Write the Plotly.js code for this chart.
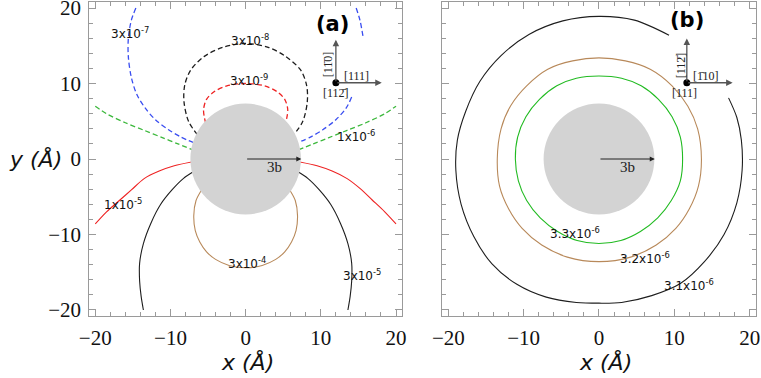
<!DOCTYPE html>
<html lang="en">
<head>
<meta charset="UTF-8">
<script src="https://cdn.plot.ly/plotly-3.0.1.min.js"></script>
<style>
    html, body, #plot {
        margin: 0;
        padding: 0;
        width: 761px;
        height: 378px;
        overflow: hidden;
        background: #fff;
    }
</style>
</head>
<body>
<div id="plot"></div>
<script>
    // ---- panel (a) contours ----
    const a7L_x = [-14.6, -15.2, -15.6, -15.6, -15.2, -14.5, -13.4, -12.0, -10.3, -8.6, -7.0];
    const a7L_y = [20.0, 18.4, 16.0, 13.5, 10.8, 8.6, 6.8, 5.2, 3.9, 2.9, 2.2];
    const a7Rtop_x = [14.7, 15.2, 15.6];
    const a7Rtop_y = [20.0, 18.4, 16.3];
    const a7Rbot_x = [14.1, 13.4, 12.0, 10.3, 8.6, 7.0];
    const a7Rbot_y = [8.2, 6.8, 5.2, 3.9, 2.9, 2.2];

    const a8_x = [-6.4, -7.6, -8.2, -8.1, -7.3, -5.5, -3.0, 0, 3.0, 5.3, 7.3, 8.1, 8.2, 7.6, 6.4];
    const a8_y = [3.2, 5.0, 7.6, 9.8, 11.8, 13.6, 14.8, 15.3, 14.8, 13.6, 11.8, 9.8, 7.6, 5.0, 3.2];

    const a9_x = [-5.3, -5.6, -5.2, -4.2, -2.5, 0, 2.5, 4.2, 5.2, 5.6, 5.3];
    const a9_y = [4.7, 6.5, 7.9, 8.9, 9.7, 10.0, 9.7, 8.9, 7.9, 6.5, 4.7];

    const a6L_x = [-20.0, -18.5, -16.0, -13.5, -11.0, -9.0, -7.0];
    const a6L_y = [7.0, 6.0, 4.8, 3.8, 2.8, 2.0, 1.2];
    const a6R_x = [7.0, 9.0, 11.0, 13.5, 16.0, 18.5, 20.0];
    const a6R_y = [1.2, 2.0, 2.8, 3.8, 4.8, 6.0, 7.0];

    const a5L_x = [-7.2, -9.5, -11.5, -13.5, -15.2, -16.8, -18.5, -20.0];
    const a5L_y = [-0.4, -0.9, -1.6, -2.6, -4.1, -5.5, -7.0, -8.6];
    const a5R_x = [7.2, 9.5, 11.5, 13.5, 15.2, 16.8, 18.5, 20.0];
    const a5R_y = [-0.4, -0.9, -1.6, -2.6, -3.9, -5.4, -7.0, -8.6];

    const a35L_x = [-6.8, -8.3, -9.8, -11.3, -12.6, -13.6, -14.1, -14.1, -13.9, -13.6];
    const a35L_y = [-1.6, -2.6, -4.1, -6.0, -8.5, -11.2, -13.8, -16.2, -18.2, -20.0];
    const a35R_x = [6.8, 8.3, 9.8, 11.3, 12.6, 13.6, 14.1, 14.1, 13.9, 13.6];
    const a35R_y = [-1.6, -2.6, -4.1, -6.0, -8.5, -11.2, -13.8, -16.2, -18.2, -20.0];

    const a4_x = [-5.8, -6.6, -6.9, -6.7, -6.1, -5.2, -4.0, -2.2, 0, 2.2, 4.0, 5.2, 6.1, 6.7, 6.9, 6.6, 5.8];
    const a4_y = [-4.0, -5.5, -7.5, -9.5, -11.0, -12.3, -13.3, -14.1, -14.4, -14.1, -13.3, -12.3, -11.0, -9.5, -7.5, -5.5, -4.0];

    // ---- panel (b) contours ----
    const b33_x = [0, -3.0, -5.6, -7.9, -9.7, -10.8, -11.1, -10.7, -9.6, -7.8, -5.5, -2.9, 0, 2.9, 5.5, 7.8, 9.6, 10.8, 11.1, 10.8, 9.7, 7.9, 5.6, 3.0, 0];
    const b33_y = [11.0, 10.7, 9.7, 7.9, 5.6, 2.9, 0, -2.9, -5.5, -7.8, -9.6, -10.8, -11.2, -10.8, -9.6, -7.8, -5.5, -2.9, 0, 2.9, 5.6, 7.9, 9.7, 10.7, 11.0];

    const b32_x = [0, -3.5, -6.8, -9.6, -11.7, -13.0, -13.5, -13.2, -12.0, -10.2, -7.6, -4.2, 0, 4.2, 7.6, 10.2, 12.0, 13.2, 13.6, 13.1, 11.8, 9.7, 6.8, 3.5, 0];
    const b32_y = [13.4, 13.0, 11.9, 9.7, 7.1, 4.0, 0, -3.6, -6.6, -9.2, -11.4, -13.0, -13.6, -13.0, -11.4, -9.2, -6.6, -3.6, 0, 4.0, 7.0, 9.7, 11.9, 13.0, 13.4];

    const b31_x = [9.3, 4.7, 0, -4.8, -9.3, -13.0, -15.8, -17.7, -18.8, -19.0, -18.3, -16.6, -14.2, -10.9, -7.0, -3.0, 0, 3.0, 7.0, 10.8, 14.0, 16.6, 18.3, 19.0, 18.9, 18.3, 17.2];
    const b31_y = [16.4, 18.4, 18.9, 18.3, 16.5, 13.7, 10.3, 6.3, 2.5, -1.5, -6.0, -10.3, -13.9, -16.6, -18.3, -19.0, -19.1, -19.0, -18.1, -16.5, -13.6, -10.0, -5.8, -1.5, 2.5, 5.5, 8.1];

    const coreRadius = 7.35;
    const burgers = 7.4;
    const axisRange = [-20.8, 20.8];

    const blue = '#3a4ef0', red = '#ee2222', green = '#3cb83c', black = '#1e1e1e', brown = '#b8895a';

    function curve(xs, ys, color, dash, panel) {
        return {
            x: xs, y: ys,
            type: 'scatter', mode: 'lines',
            line: { color: color, width: dash ? 1.3 : 1.1, dash: dash || 'solid', shape: 'spline', smoothing: 0.9 },
            xaxis: panel === 'b' ? 'x2' : 'x',
            yaxis: panel === 'b' ? 'y2' : 'y',
            hoverinfo: 'skip', showlegend: false
        };
    }

    const dashed = '5px,3px';
    const data = [
        curve(a7L_x, a7L_y, blue, dashed, 'a'),
        curve(a7Rtop_x, a7Rtop_y, blue, dashed, 'a'),
        curve(a7Rbot_x, a7Rbot_y, blue, dashed, 'a'),
        curve(a8_x, a8_y, black, dashed, 'a'),
        curve(a9_x, a9_y, red, dashed, 'a'),
        curve(a6L_x, a6L_y, green, dashed, 'a'),
        curve(a6R_x, a6R_y, green, dashed, 'a'),
        curve(a5L_x, a5L_y, red, null, 'a'),
        curve(a5R_x, a5R_y, red, null, 'a'),
        curve(a35L_x, a35L_y, black, null, 'a'),
        curve(a35R_x, a35R_y, black, null, 'a'),
        curve(a4_x, a4_y, brown, null, 'a'),
        curve(b33_x, b33_y, '#22bb22', null, 'b'),
        curve(b32_x, b32_y, brown, null, 'b'),
        curve(b31_x, b31_y, black, null, 'b')
    ];

    // inset origin dots
    const insetA = [12.0, 10.1];
    const insetB = [11.66, 10.1];
    data.push({ x: [insetA[0]], y: [insetA[1]], type: 'scatter', mode: 'markers',
        marker: { color: '#000', size: 7 }, xaxis: 'x', yaxis: 'y', hoverinfo: 'skip', showlegend: false });
    data.push({ x: [insetB[0]], y: [insetB[1]], type: 'scatter', mode: 'markers',
        marker: { color: '#000', size: 7 }, xaxis: 'x2', yaxis: 'y2', hoverinfo: 'skip', showlegend: false });

    function axis(showLabels, domain, anchor) {
        return {
            domain: domain, anchor: anchor,
            range: axisRange, tick0: 0, dtick: 10,
            ticks: 'inside', ticklen: 7, tickwidth: 1, tickcolor: '#9a9a9a',
            showline: true, linecolor: '#9a9a9a', linewidth: 1, mirror: 'allticks',
            showgrid: false, zeroline: false,
            showticklabels: showLabels,
            ticklabeloverflow: 'allow',
            ticklabelstandoff: 3,
            tickfont: { family: 'Liberation Serif', size: 21, color: '#111' },
            minor: { dtick: 2, ticks: 'inside', ticklen: 4, tickcolor: '#9a9a9a', showgrid: false },
            fixedrange: true
        };
    }

    const yDom = [0.164, 0.9947];
    const labelFont = { family: 'DejaVu Sans', size: 12, color: '#111' };
    const millerFont = { family: 'Liberation Serif, DejaVu Serif', size: 12, color: '#222' };

    function txt(text, x, y, panel, font, extra) {
        return Object.assign({
            text: text, x: x, y: y,
            xref: panel === 'b' ? 'x2' : 'x', yref: panel === 'b' ? 'y2' : 'y',
            showarrow: false, font: font, xanchor: 'center', yanchor: 'middle'
        }, extra || {});
    }

    function arrow(x, y, ax, ay, panel, color, width) {
        const xr = panel === 'b' ? 'x2' : 'x', yr = panel === 'b' ? 'y2' : 'y';
        return {
            text: '', x: x, y: y, ax: ax, ay: ay,
            xref: xr, yref: yr, axref: xr, ayref: yr,
            showarrow: true, arrowhead: 2, arrowsize: 1, arrowwidth: width, arrowcolor: color
        };
    }

    function title(text, px, py) {
        return { text: text, x: px / 761, y: 1 - py / 378, xref: 'paper', yref: 'paper',
            xanchor: 'center', yanchor: 'middle', showarrow: false,
            font: { family: 'DejaVu Sans', size: 22, color: '#111' } };
    }

    const annotations = [
        // contour labels (a)
        txt('3x10<sup>-7</sup>', -15.4, 16.7, 'a', labelFont),
        txt('3x10<sup>-8</sup>', 0.6, 15.8, 'a', labelFont),
        txt('3x10<sup>-9</sup>', 0.4, 10.5, 'a', labelFont),
        txt('1x10<sup>-6</sup>', 14.7, 3.0, 'a', labelFont),
        txt('1x10<sup>-5</sup>', -16.3, -6.0, 'a', labelFont),
        txt('3x10<sup>-5</sup>', 15.5, -15.4, 'a', labelFont),
        txt('3x10<sup>-4</sup>', 0.15, -13.8, 'a', labelFont),
        // contour labels (b)
        txt('3.3x10<sup>-6</sup>', -3.2, -9.8, 'b', labelFont),
        txt('3.2x10<sup>-6</sup>', 6.05, -13.1, 'b', labelFont),
        txt('3.1x10<sup>-6</sup>', 12.0, -16.7, 'b', labelFont),
        // panel tags
        txt('<b>(a)</b>', 11.6, 17.9, 'a', { family: 'DejaVu Sans', size: 21, color: '#000' }),
        txt('<b>(b)</b>', 11.75, 18.4, 'b', { family: 'DejaVu Sans', size: 21, color: '#000' }),
        // burgers vector
        arrow(burgers, 0, 0, 0, 'a', '#222', 1),
        arrow(burgers, 0, 0, 0, 'b', '#222', 1),
        txt('3b', 3.8, -1.0, 'a', { family: 'Liberation Serif', size: 15, color: '#222' }),
        txt('3b', 3.8, -1.0, 'b', { family: 'Liberation Serif', size: 15, color: '#222' }),
        // inset (a)
        arrow(insetA[0], 15.8, insetA[0], insetA[1], 'a', '#555', 1.3),
        arrow(18.1, insetA[1], insetA[0], insetA[1], 'a', '#555', 1.3),
        txt('[11\u03040]', 11.0, 12.6, 'a', millerFont, { textangle: -90 }),
        txt('[111]', 14.7, 11.0, 'a', millerFont),
        txt('[112\u0304]', 11.96, 8.8, 'a', millerFont),
        // inset (b)
        arrow(insetB[0], 15.95, insetB[0], insetB[1], 'b', '#555', 1.3),
        arrow(17.74, insetB[1], insetB[0], insetB[1], 'b', '#555', 1.3),
        txt('[112\u0304]', 11.0, 12.4, 'b', millerFont, { textangle: -90 }),
        txt('[1\u030410]', 14.15, 11.0, 'b', millerFont),
        txt('[111]', 11.4, 8.8, 'b', millerFont),
        // axis titles
        title('<i>y (Å)</i>', 35, 159),
        title('<i>x (Å)</i>', 247.5, 362),
        title('<i>x (Å)</i>', 605, 362)
    ];

    function disk(xr, yr) {
        return {
            type: 'circle', xref: xr, yref: yr, layer: 'above',
            x0: -coreRadius, x1: coreRadius, y0: -coreRadius, y1: coreRadius,
            fillcolor: '#d3d3d3', line: { width: 0 }
        };
    }

    const layout = {
        width: 761, height: 378,
        margin: { l: 0, r: 0, t: 0, b: 0, pad: 0 },
        paper_bgcolor: '#fff', plot_bgcolor: '#fff',
        showlegend: false,
        xaxis: axis(true, [0.1173, 0.5283], 'y'),
        yaxis: axis(true, yDom, 'x'),
        xaxis2: axis(true, [0.5812, 0.9930], 'y2'),
        yaxis2: axis(false, yDom, 'x2'),
        shapes: [disk('x', 'y'), disk('x2', 'y2')],
        annotations: annotations
    };

    Plotly.newPlot('plot', data, layout, { displayModeBar: false, staticPlot: true });
</script>
</body>
</html>
